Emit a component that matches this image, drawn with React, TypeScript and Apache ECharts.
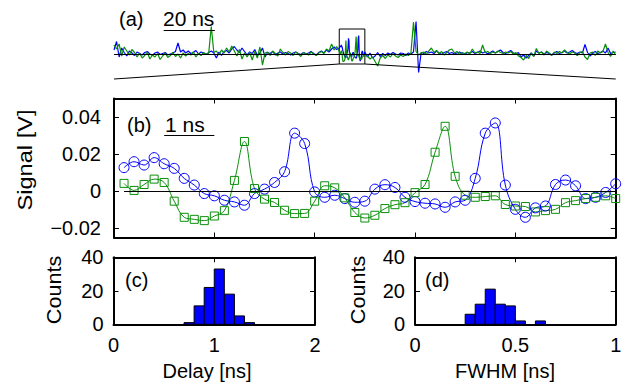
import React, { useEffect, useRef } from 'react';
import * as echarts from 'echarts';

const FONT = "'Liberation Sans', Arial, Helvetica, sans-serif";
const BLUE = '#0000ff';
const GREEN = '#0a8f0a';

// ---- panel (b): 10 ns window, 0.2 ns sampling (V) ----
const bTime = [0.2, 0.4, 0.6, 0.8, 1.0, 1.2, 1.4, 1.6, 1.8, 2.0, 2.2, 2.4, 2.6, 2.8, 3.0, 3.2, 3.4, 3.6, 3.8, 4.0,
  4.2, 4.4, 4.6, 4.8, 5.0, 5.2, 5.4, 5.6, 5.8, 6.0, 6.2, 6.4, 6.6, 6.8, 7.0, 7.2, 7.4, 7.6, 7.8, 8.0,
  8.2, 8.4, 8.6, 8.8, 9.0, 9.2, 9.4, 9.6, 9.8, 10.0];
const bBlue = [0.0127, 0.0159, 0.0141, 0.0181, 0.0148, 0.0123, 0.0069, 0.0033, -0.0013, -0.0025,
  -0.0049, -0.0058, -0.0076, -0.0013, 0.0011, 0.0047, 0.0105, 0.0313, 0.0257, -0.0004,
  -0.0033, -0.0022, -0.0040, -0.0060, -0.0054, 0.0011, 0.0035, 0.0020, -0.0033, -0.0056,
  -0.0065, -0.0069, -0.0087, -0.0058, -0.0049, 0.0069, 0.0313, 0.0368, 0.0033, -0.0098,
  -0.0141, -0.0090, -0.0080, 0.0036, 0.0060, 0.0029, -0.0040, -0.0033, -0.0007, 0.0040];
const bGreen = [0.0042, 0.0004, 0.0036, 0.0065, 0.0047, -0.0054, -0.0141, -0.0152, -0.0159, -0.0134,
  -0.0105, 0.0058, 0.0268, 0.0014, -0.0043, -0.0061, -0.0103, -0.0121, -0.0120, -0.0054,
  0.0029, 0.0018, -0.0036, -0.0115, -0.0145, -0.0130, -0.0094, -0.0073, -0.0062, -0.0008,
  0.0036, 0.0210, 0.0350, 0.0080, -0.0022, -0.0033, -0.0029, -0.0025, -0.0072, -0.0080,
  -0.0083, -0.0112, -0.0105, -0.0098, -0.0062, -0.0051, -0.0040, -0.0033, -0.0025, -0.0040];
const bYTicks = [-0.02, 0, 0.02, 0.04];

// ---- panel (a): long trace, 1 ns sampling (mV), outside the 10 ns window ----
const A_WINDOW_START = 88; // ns
const A_WINDOW_END = 98;
const A_RIGHT_START = 99;
const A_END = 196;
const aBlueLeft = [8, 25, -6, 12, 3, -4, 6, 2, -3, 4,
  1, -2, 3, 5, 0, -3, 2, 4, -1, 1,
  3, -2, 0, 2, 5, 22, 4, 8, 2, 6,
  1, 3, 7, 0, 4, 2, -1, 3, 6, 2,
  -8, 4, -3, 5, 7, 2, 10, 15, 8, 3,
  12, 5, -2, 4, 1, 9, -3, 2, 12, -6,
  3, 1, 5, -2, 2, 4, 0, 3, 1, -2,
  2, 4, 1, -1, 3, 0, 2, 5, 1, -2,
  3, 6, 2, 8, 4, 10, 14, 9, 12];
const aGreenLeft = [18, 10, 20, -4, 14, 6, -2, 9, 3, -6,
  2, -8, -3, 4, -10, -2, -6, 1, -11, -4,
  2, -7, -3, 3, -5, 0, -8, 2, -4, 1,
  -2, 4, -6, 1, -3, 3, -1, 2, 55, 3,
  6, -2, 8, 2, 12, 4, 16, 6, -4, 9,
  -10, 2, -6, 3, -12, 5, -8, 14, -22, 2,
  4, -3, 6, 1, -4, 10, 3, -2, 5, 2,
  -3, 4, 0, -5, 3, 1, -2, 4, 0, -3,
  2, 5, 1, 10, 6, 20, 8, 15, 5];
const aBlueRight = [-6, 2, -8, -4, 3, -5, 1, -3, 2, -1,
  3, 0, -2, 2, 1, -3, 2, 0, 4, 65,
  -37, 3, 1, 5, 2, 4, 1, 6, 2, -1,
  3, 5, 1, 3, 0, 2, 4, 1, -1, 3,
  2, 5, 1, 3, 6, 2, 4, 0, 3, 6,
  2, 5, 8, 3, 1, 4, 7, 2, 0, 3,
  -6, -2, -8, -3, 2, -4, 6, 2, 4, 0,
  3, 1, -2, 2, 5, 1, 3, 6, 2, 4,
  7, 3, 1, 4, 2, 19, 3, -4, 2, 5,
  1, 3, 6, 2, 12, 1, 3, 4];
const aGreenRight = [-4, -10, -6, -15, -24, -8, -3, -9, -2, -6,
  1, -4, -7, -2, -5, 0, -3, 2, 64, 5,
  -2, 2, 4, -1, 6, 12, 3, 7, 1, 5,
  -2, 3, 8, 10, 2, 5, -1, 3, 1, 4,
  0, 10, 2, 4, 1, 18, 3, 5, 1, 4,
  2, 6, 3, 1, 4, 2, 5, 0, 3, -4,
  -7, -12, -3, -9, 2, -5, 11, 1, 4, -2,
  6, 2, -3, 4, 1, 5, 2, 8, 3, 0,
  4, 2, -3, 3, 5, -6, -11, 2, 4, -3,
  6, 2, 5, 20, 3, -5, 6, -2];

// ---- histograms ----
const DELAY_BIN = 0.1;
const delayCenters = [0.75, 0.85, 0.95, 1.05, 1.15, 1.25, 1.35];
const delayCounts = [1, 11, 22, 33, 18, 5, 1];
const FWHM_BIN = 0.05;
const fwhmCenters = [0.275, 0.325, 0.375, 0.425, 0.475, 0.525, 0.625];
const fwhmCounts = [6, 12, 21, 12, 11, 2, 2];

function buildA(left: number[], win: number[], right: number[]) {
  return [
    ...left.map((v, i) => [i, v / 1000]),
    ...bTime.map((t, i) => [A_WINDOW_START + t, win[i]]),
    ...right.map((v, i) => [A_RIGHT_START + i, v / 1000]),
  ];
}

const TICK_FONT = 20;
const lineStyleAxis = { color: '#000', width: 2 };

function xAx(gridIndex: number, min: number, max: number, interval: number, position: string, labels: boolean, formatter?: any) {
  return {
    type: 'value', gridIndex, min, max, interval, position,
    axisLine: { show: true, onZero: false, lineStyle: lineStyleAxis },
    axisTick: { show: true, inside: true, length: 5, lineStyle: { color: '#000', width: 1 } },
    axisLabel: { show: labels, color: '#000', fontFamily: FONT, fontSize: TICK_FONT, margin: 11, formatter },
    splitLine: { show: false },
  };
}
function yAx(gridIndex: number, min: number, max: number, interval: number | undefined, position: string, labels: boolean, extra: any = {}) {
  return {
    type: 'value', gridIndex, min, max, interval, position,
    axisLine: { show: true, onZero: false, lineStyle: lineStyleAxis },
    axisTick: { show: true, inside: true, length: 5, lineStyle: { color: '#000', width: 1 }, ...(extra.tick || {}) },
    axisLabel: { show: labels, color: '#000', fontFamily: FONT, fontSize: TICK_FONT, margin: 10, ...(extra.label || {}) },
    splitLine: { show: false },
  };
}

function histRender(bin: number) {
  return (params: any, api: any) => {
    const c = api.value(0);
    const h = api.value(1);
    const p0 = api.coord([c - bin / 2, h]);
    const p1 = api.coord([c + bin / 2, 0]);
    return {
      type: 'rect',
      shape: { x: p0[0], y: p0[1], width: p1[0] - p0[0], height: p1[1] - p0[1] },
      style: { fill: BLUE, stroke: '#000', lineWidth: 1 },
    };
  };
}

const txt = (text: string, x: number, y: number, size: number, extra: any = {}) => ({
  type: 'text', x, y, silent: true, ...extra,
  style: { text, fontSize: size, fontFamily: FONT, fill: '#000', align: extra.align || 'left', verticalAlign: 'middle' },
});

const blackLine = { color: '#000', width: 1, type: 'solid' };

function App() {
  const ref = useRef<HTMLDivElement>(null);
  useEffect(() => {
    if (!ref.current) return;
    const chart = echarts.init(ref.current, null, { renderer: 'svg' });
    const bLast = bTime.length - 1;
    const option: any = {
      animation: false,
      backgroundColor: '#fff',
      grid: [
        { left: 114, top: 14, width: 501.7, height: 70 },
        { left: 114, top: 98.5, width: 501.7, height: 139 },
        { left: 113.5, top: 257.3, width: 201.5, height: 67 },
        { left: 415, top: 257.3, width: 200.7, height: 67 },
      ],
      xAxis: [
        { type: 'value', gridIndex: 0, min: 0, max: A_END, show: false },
        xAx(1, 0, 10, 2, 'bottom', false),
        xAx(1, 0, 10, 2, 'top', false),
        xAx(2, 0, 2, 1, 'bottom', true),
        xAx(2, 0, 2, 1, 'top', false),
        xAx(3, 0, 1, 0.5, 'bottom', true),
        xAx(3, 0, 1, 0.5, 'top', false),
      ],
      yAxis: [
        { type: 'value', gridIndex: 0, min: -0.06, max: 0.08, show: false },
        yAx(1, -0.025, 0.05, undefined, 'left', true, {
          tick: { customValues: bYTicks },
          label: {
            customValues: bYTicks, margin: 13,
            formatter: (v: number) => (Math.abs(v) < 1e-9 ? '0' : (v < 0 ? '\u2212' : '') + Math.abs(v).toFixed(2)),
          },
        }),
        yAx(1, -0.025, 0.05, undefined, 'right', false, { tick: { customValues: bYTicks } }),
        yAx(2, 0, 40, 20, 'left', true),
        yAx(2, 0, 40, 20, 'right', false),
        yAx(3, 0, 40, 20, 'left', true),
        yAx(3, 0, 40, 20, 'right', false),
      ],
      series: [
        {
          type: 'line', xAxisIndex: 0, yAxisIndex: 0, showSymbol: false, symbol: 'none',
          data: buildA(aBlueLeft, bBlue, aBlueRight),
          lineStyle: { color: BLUE, width: 1.2 }, itemStyle: { color: BLUE },
        },
        {
          type: 'line', xAxisIndex: 0, yAxisIndex: 0, showSymbol: false, symbol: 'none',
          data: buildA(aGreenLeft, bGreen, aGreenRight),
          lineStyle: { color: GREEN, width: 1.2 }, itemStyle: { color: GREEN },
          markLine: {
            silent: true, symbol: ['none', 'none'], label: { show: false }, lineStyle: blackLine,
            emphasis: { disabled: true },
            data: [
              [{ coord: [0, 0] }, { coord: [A_END, 0] }],
              [{ coord: [A_WINDOW_START, -0.02] }, { coord: [0, -0.05] }],
              [{ coord: [A_WINDOW_END, -0.02] }, { coord: [A_END, -0.05] }],
              [{ coord: [19.4, 0.048] }, { coord: [39.4, 0.048] }],
            ],
          },
          markArea: {
            silent: true, label: { show: false },
            itemStyle: { color: 'rgba(0,0,0,0)', borderColor: '#000', borderWidth: 1 },
            data: [[{ coord: [A_WINDOW_START, -0.02] }, { coord: [A_WINDOW_END, 0.05] }]],
          },
        },
        {
          type: 'line', xAxisIndex: 1, yAxisIndex: 1, smooth: 0.4,
          data: bTime.map((t, i) => [t, bBlue[i]]),
          symbol: 'circle', symbolSize: 10,
          itemStyle: { color: 'rgba(0,0,0,0)', borderColor: BLUE, borderWidth: 1 },
          lineStyle: { color: BLUE, width: 1 },
          markLine: {
            silent: true, symbol: ['none', 'none'], label: { show: false }, lineStyle: blackLine,
            emphasis: { disabled: true },
            data: [
              [{ coord: [bTime[0], 0] }, { coord: [bTime[bLast], 0] }],
              [{ coord: [1, 0.03] }, { coord: [2, 0.03] }],
            ],
          },
        },
        {
          type: 'line', xAxisIndex: 1, yAxisIndex: 1, smooth: 0.4,
          data: bTime.map((t, i) => [t, bGreen[i]]),
          symbol: 'rect', symbolSize: 8,
          itemStyle: { color: 'rgba(0,0,0,0)', borderColor: GREEN, borderWidth: 1 },
          lineStyle: { color: GREEN, width: 1 },
        },
        {
          type: 'custom', xAxisIndex: 3, yAxisIndex: 3,
          data: delayCenters.map((c, i) => [c, delayCounts[i]]),
          encode: { x: 0, y: 1 }, renderItem: histRender(DELAY_BIN),
        },
        {
          type: 'custom', xAxisIndex: 5, yAxisIndex: 5,
          data: fwhmCenters.map((c, i) => [c, fwhmCounts[i]]),
          encode: { x: 0, y: 1 }, renderItem: histRender(FWHM_BIN),
        },
      ],
      graphic: [
        txt('(a)', 119, 19, 20),
        txt('20 ns', 163, 18, 21),
        txt('(b)', 127, 125, 20),
        txt('1 ns', 165, 124, 21),
        txt('(c)', 125, 280, 20),
        txt('(d)', 425, 280, 20),
        txt('Signal [V]', 25, 160, 20, { rotation: Math.PI / 2, scaleX: 1.18, align: 'center' }),
        txt('Counts', 54, 290, 20, { rotation: Math.PI / 2, scaleX: 1.08, align: 'center' }),
        txt('Counts', 357.5, 290, 20, { rotation: Math.PI / 2, scaleX: 1.08, align: 'center' }),
        txt('Delay [ns]', 207, 371, 20, { align: 'center' }),
        txt('FWHM [ns]', 505, 371, 20, { align: 'center' }),
      ],
    };
    chart.setOption(option);
    return () => chart.dispose();
  }, []);
  return <div ref={ref} style={{ position: 'fixed', left: 0, top: 0, width: 631, height: 387 }} />;
}

export default App;
